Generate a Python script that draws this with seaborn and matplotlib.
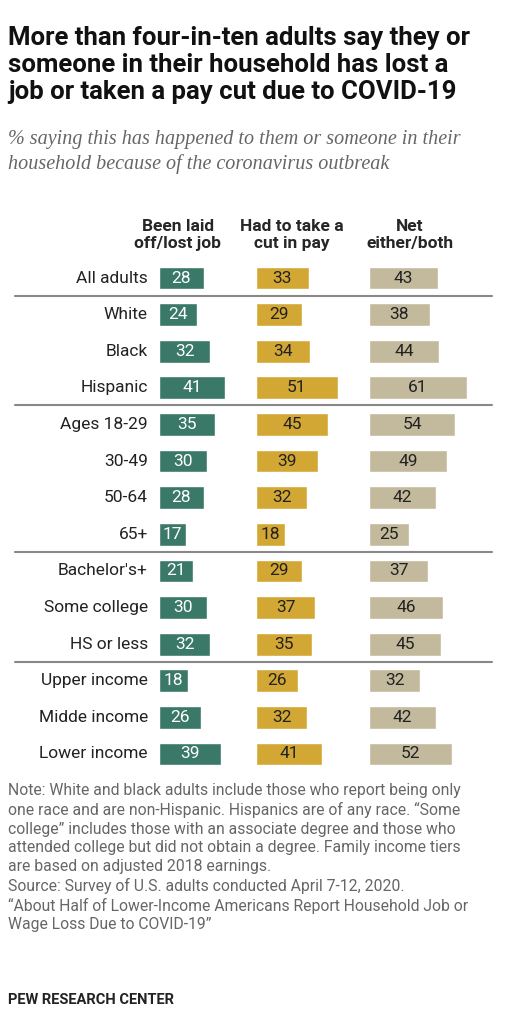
import matplotlib
matplotlib.use("Agg")
import matplotlib.pyplot as plt
import pandas as pd
import seaborn as sns
from matplotlib.lines import Line2D

sns.set_style("white")
plt.rcParams["font.family"] = ["Roboto", "DejaVu Sans"]

groups = ["All adults", "White", "Black", "Hispanic", "Ages 18-29", "30-49", "50-64", "65+",
          "Bachelor's+", "Some college", "HS or less", "Upper income", "Midde income", "Lower income"]
laid_off = [28, 24, 32, 41, 35, 30, 28, 17, 21, 30, 32, 18, 26, 39]
pay_cut = [33, 29, 34, 51, 45, 39, 32, 18, 29, 37, 35, 26, 32, 41]
net = [43, 38, 44, 61, 54, 49, 42, 25, 37, 46, 45, 32, 42, 52]
headers = ["Been laid\noff/lost job", "Had to take a\ncut in pay", "Net\neither/both"]
colors = ["#3a7868", "#d3a733", "#c3b99c"]
text_colors = ["white", "#222222", "#222222"]

W, H = 515, 1023
fig = plt.figure(figsize=(W / 100, H / 100), dpi=100)


def fx(px):
    return px / W


def fy(py):
    return 1 - py / H


top, bottom = 259.7, 772.3
lefts = [159, 256, 369]
for i, vals in enumerate([laid_off, pay_cut, net]):
    ax = fig.add_axes([fx(lefts[i]), fy(bottom), 100 / W, (bottom - top) / H])
    df = pd.DataFrame({"group": groups, "value": vals})
    sns.barplot(data=df, x="value", y="group", color=colors[i], width=0.62,
                saturation=1, ax=ax)
    ax.set_xlim(0, 62.5)
    ax.set_ylim(13.5, -0.5)
    ax.axis("off")
    for j, v in enumerate(vals):
        ax.text(v / 2, j, str(v), ha="center", va="center", fontsize=12.5,
                color=text_colors[i])
    cx = [178, 292, 410][i]
    fig.text(fx(cx), fy(235), headers[i], ha="center", va="center", fontsize=12.5,
             fontweight="bold", linespacing=1.1)
    if i == 0:
        for j, g in enumerate(groups):
            ax.text(-7, j, g, ha="right", va="center", fontsize=12.5, color="#222222")

for py in [296, 405, 552, 662]:
    fig.add_artist(Line2D([fx(15), fx(492)], [fy(py), fy(py)], color="#888888", lw=1.5))

fig.text(fx(8), fy(26), "More than four-in-ten adults say they or\nsomeone in their household has lost a\njob or taken a pay cut due to COVID-19",
         ha="left", va="top", fontsize=18.5, fontweight="bold", linespacing=1.15, color="#111111")
fig.text(fx(8), fy(130), "% saying this has happened to them or someone in their\nhousehold because of the coronavirus outbreak",
         ha="left", va="top", fontsize=14.5, style="italic", family="Liberation Serif",
         color="#666666", linespacing=1.35)
note = ("Note: White and black adults include those who report being only\n"
        "one race and are non-Hispanic. Hispanics are of any race. \u201cSome\n"
        "college\u201d includes those with an associate degree and those who\n"
        "attended college but did not obtain a degree. Family income tiers\n"
        "are based on adjusted 2018 earnings.\n"
        "Source: Survey of U.S. adults conducted April 7-12, 2020.\n"
        "\u201cAbout Half of Lower-Income Americans Report Household Job or\n"
        "Wage Loss Due to COVID-19\u201d")
fig.text(fx(8), fy(783), note, ha="left", va="top", fontsize=11.3, color="#666666",
         linespacing=1.3)
fig.text(fx(8), fy(1000), "PEW RESEARCH CENTER", ha="left", va="center", fontsize=10.5,
         fontweight="bold", color="#222222")

fig.savefig("out.png", dpi=100)
